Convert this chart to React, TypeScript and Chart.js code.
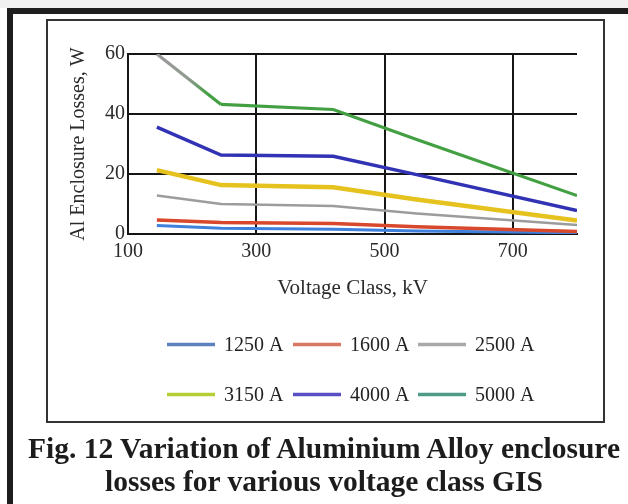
import React, { useEffect, useRef } from "react";
import { Chart, registerables } from "chart.js";

Chart.register(...registerables);

// ---- data ----
const voltageClasses = [145, 245, 420, 550, 800];
const seriesNames = ["1250 A", "1600 A", "2500 A", "3150 A", "4000 A", "5000 A"];
const loss1250 = [2.8, 1.9, 1.6, 1.0, 0.4];
const loss1600 = [4.7, 3.8, 3.5, 2.4, 0.8];
const loss2500 = [12.8, 10.0, 9.3, 6.8, 3.0];
const loss3150 = [21.3, 16.3, 15.6, 11.5, 4.5];
const loss4000 = [35.6, 26.3, 25.9, 19.8, 7.8];
const loss5000 = [60, 43.2, 41.5, 31.5, 12.8];
const xTickValues = [100, 300, 500, 700];
const yTickValues = [0, 20, 40, 60];

const allSeries = [loss1250, loss1600, loss2500, loss3150, loss4000, loss5000];
const lineColors = ["#3f80dc", "#d8482c", "#9c9c9c", "#e6c21e", "#3232b4", "#42a042"];
const legendColors = ["#5b82bc", "#d87862", "#a9a9a9", "#b7cd34", "#5a50c6", "#4e9c88"];
const lineWidths = [3, 3.5, 2.5, 4.5, 3.5, 3.2];

const SERIF = '"Liberation Serif", "Times New Roman", serif';

const gridLegend = {
  id: "gridLegend",
  afterDraw(chart: any) {
    const ctx = chart.ctx;
    const cols = [167, 293, 418];
    const rows = [344.5, 394.5];
    ctx.save();
    ctx.font = `20px ${SERIF}`;
    ctx.textBaseline = "middle";
    ctx.textAlign = "left";
    chart.data.datasets.forEach((ds: any, i: number) => {
      const x = cols[i % 3];
      const y = rows[Math.floor(i / 3)];
      ctx.strokeStyle = ds.legendColor;
      ctx.lineWidth = 3.5;
      ctx.beginPath();
      ctx.moveTo(x, y);
      ctx.lineTo(x + 48, y);
      ctx.stroke();
      ctx.fillStyle = "#222";
      ctx.fillText(ds.label, x + 57, y + 1);
    });
    ctx.restore();
  },
};

export default function App() {
  const canvasRef = useRef<HTMLCanvasElement | null>(null);

  useEffect(() => {
    const canvas = canvasRef.current;
    if (!canvas) return;
    const c2d = canvas.getContext("2d")!;
    const datasets = allSeries.map((vals, i) => {
      const ds: any = {
        label: seriesNames[i],
        data: voltageClasses.map((v, j) => ({ x: v, y: vals[j] })),
        borderColor: lineColors[i],
        backgroundColor: lineColors[i],
        borderWidth: lineWidths[i],
        pointRadius: 0,
        tension: 0,
        fill: false,
        legendColor: legendColors[i],
        order: i === 1 ? -1 : i,
      };
      if (i === 5) {
        ds.segment = {
          borderColor: (c: any) => {
            if (c.p0DataIndex !== 0) return undefined;
            const g = c2d.createLinearGradient(c.p0.x, 0, c.p1.x, 0);
            g.addColorStop(0, "#9a9a9a");
            g.addColorStop(0.5, "#8f9a8f");
            g.addColorStop(0.8, lineColors[5]);
            g.addColorStop(1, lineColors[5]);
            return g;
          },
        };
      }
      return ds;
    });

    const chart = new Chart(canvas, {
      type: "line",
      data: { datasets },
      plugins: [gridLegend],
      options: {
        animation: false,
        responsive: false,
        devicePixelRatio: 1,
        layout: { padding: { left: 67, top: 54, right: 51, bottom: 203 } },
        plugins: { legend: { display: false }, tooltip: { enabled: false } },
        scales: {
          x: {
            type: "linear",
            min: 100,
            max: 800,
            afterBuildTicks: (s: any) => {
              s.ticks = xTickValues.map((v) => ({ value: v }));
            },
            afterFit: (s: any) => {
              s.height = 67;
            },
            grid: { color: "#151515", lineWidth: 2, drawTicks: false },
            border: { display: true, color: "#151515", width: 2 },
            ticks: {
              font: { family: SERIF, size: 20 },
              color: "#2a2a2a",
              padding: 6,
              maxRotation: 0,
              autoSkip: false,
            },
            title: {
              display: true,
              text: "Voltage Class, kV",
              font: { family: SERIF, size: 21 },
              color: "#2a2a2a",
              padding: { top: 0, bottom: 0 },
            },
          },
          y: {
            type: "linear",
            min: 0,
            max: 60,
            afterBuildTicks: (s: any) => {
              s.ticks = yTickValues.map((v) => ({ value: v }));
            },
            afterFit: (s: any) => {
              s.width = 61;
            },
            grid: { color: "#151515", lineWidth: 2, drawTicks: false },
            border: { display: true, color: "#151515", width: 2 },
            ticks: {
              font: { family: SERIF, size: 20 },
              color: "#2a2a2a",
              padding: 3,
            },
            title: {
              display: true,
              text: "Al Enclosure Losses, W",
              font: { family: SERIF, size: 20 },
              color: "#2a2a2a",
              padding: { top: 0, bottom: 0 },
            },
          },
        },
      } as any,
    });
    return () => chart.destroy();
  }, []);

  const abs: React.CSSProperties = { position: "absolute" };
  return (
    <div
      style={{
        position: "absolute",
        left: 0,
        top: 0,
        width: 628,
        height: 504,
        overflow: "hidden",
        background: "#ffffff",
      }}
    >
      <div style={{ ...abs, left: 0, top: 0, width: 628, height: 8, background: "#f1f1f1" }} />
      <div style={{ ...abs, left: 7, top: 8, width: 621, height: 6, background: "#1e1e1e" }} />
      <div style={{ ...abs, left: 7, top: 8, width: 6, height: 496, background: "#1e1e1e" }} />
      <div
        style={{
          ...abs,
          left: 46,
          top: 19,
          width: 559,
          height: 404,
          border: "2px solid #333",
          boxSizing: "border-box",
        }}
      />
      <canvas ref={canvasRef} width={628} height={504} style={{ ...abs, left: 0, top: 0 }} />
      <div
        style={{
          ...abs,
          left: 20,
          top: 432,
          width: 608,
          textAlign: "center",
          fontFamily: SERIF,
          fontWeight: "bold",
          fontSize: 29.5,
          lineHeight: "33px",
          color: "#1c1c1c",
          whiteSpace: "nowrap",
        }}
      >
        <div>Fig. 12 Variation of Aluminium Alloy enclosure</div>
        <div>losses for various voltage class GIS</div>
      </div>
    </div>
  );
}
